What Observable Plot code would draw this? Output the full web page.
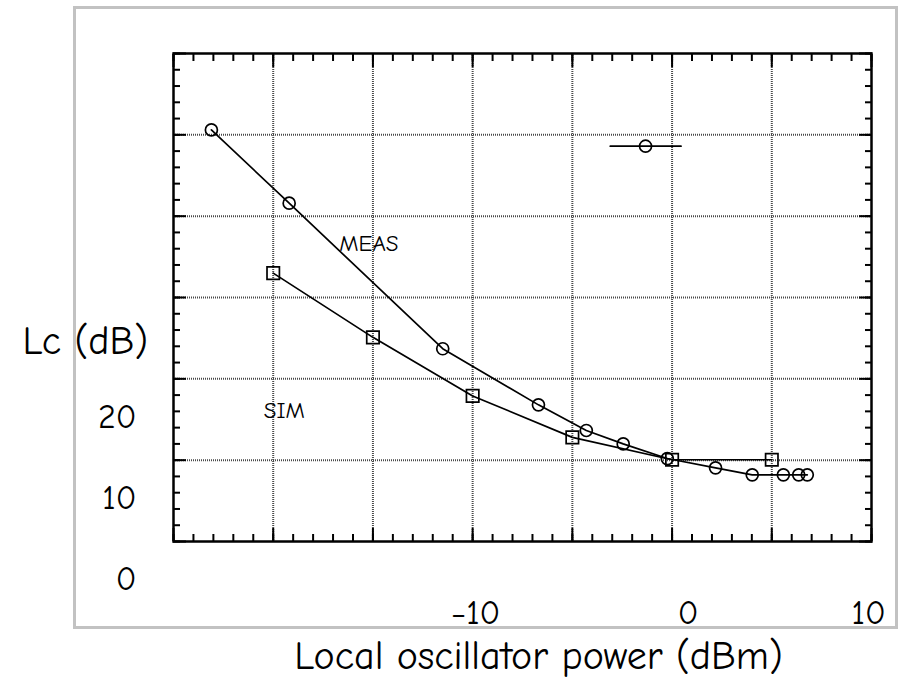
<!DOCTYPE html>
<html><head><meta charset="utf-8">
<script src="https://cdn.jsdelivr.net/npm/d3@7"></script>
<script src="https://cdn.jsdelivr.net/npm/@observablehq/plot@0.6"></script>
<style>
html,body{margin:0;padding:0;background:#fff;}
#wrap{position:relative;width:899px;height:677px;overflow:hidden;}
#box{position:absolute;left:73px;top:6px;width:825px;height:623px;border:3px solid #c2c2c2;box-sizing:border-box;}
#chart{position:absolute;left:0;top:0;}
</style></head><body>
<div id="wrap"><div id="box"></div><div id="chart"></div></div>
<script>
// Measured (MEAS, circles)
const measX = [-23.1, -19.2, -11.5, -6.7, -4.3, -2.45, -0.24, 2.18, 4.02, 5.58, 6.35, 6.78];
const measY = [50.6, 41.6, 23.7, 16.8, 13.65, 12.0, 10.2, 9.06, 8.2, 8.2, 8.2, 8.2];
// Simulated (SIM, squares)
const simX = [-20, -15, -10, -5, 0, 5];
const simY = [33.0, 25.1, 17.9, 12.8, 10.05, 10.05];
// Legend key (circle on a short line)
const keyLineX = [-3.1, 0.45];
const keyY = 48.6;
const keyDotX = -1.33;
// Annotations
const seriesNames = ["MEAS", "SIM"];
const seriesLabelX = [-15.2, -19.45];
const seriesLabelY = [36.6, 16.1];
// Axes
const xDomain = [-25, 10];
const yDomain = [0, 60];
const xGrid = [-20, -15, -10, -5, 0, 5];
const yGrid = [10, 20, 30, 40, 50];
const xMajor = [-25, -20, -15, -10, -5, 0, 5, 10];
const yMajor = [0, 10, 20, 30, 40, 50, 60];
const xMinor = d3.range(-25, 10.01, 1);
const yMinor = d3.range(0, 60.01, 2);
const yTickLabels = [0, 10, 20];
const xTickLabels = [-10, 0, 10];
const xTickShift = [3, 16, -3];
const yTitle = "Lc (dB)";
const xTitle = "Local oscillator power (dBm)";

const FONT = "'Comic Sans MS','Comic Neue','DejaVu Sans',sans-serif";
const meas = measX.map((x, i) => ({x, y: measY[i]}));
const sim = simX.map((x, i) => ({x, y: simY[i]}));
const keyLine = keyLineX.map(x => ({x, y: keyY}));
const keyDot = [{x: keyDotX, y: keyY}];
const notes = seriesNames.map((t, i) => ({t, x: seriesLabelX[i], y: seriesLabelY[i]}));

const gridStyle = {stroke: "#4a4a4a", strokeOpacity: 1, strokeWidth: 2, strokeDasharray: "1 1"};
const tk = {fill: "none", stroke: "black", strokeWidth: 2, label: null};

const chart = Plot.plot({
  width: 899, height: 677,
  marginLeft: 173, marginRight: 28, marginTop: 53, marginBottom: 136,
  style: {fontFamily: FONT, color: "black", background: "transparent", overflow: "visible"},
  x: {domain: xDomain},
  y: {domain: yDomain},
  marks: [
    Plot.gridX(xGrid, gridStyle),
    Plot.gridY(yGrid, gridStyle),
    Plot.axisX(xMinor, {...tk, anchor: "bottom", tickSize: 7, dy: -7}),
    Plot.axisX(xMinor, {...tk, anchor: "top", tickSize: 7, dy: 7}),
    Plot.axisX(xMajor, {...tk, anchor: "bottom", tickSize: 13, dy: -13}),
    Plot.axisX(xMajor, {...tk, anchor: "top", tickSize: 13, dy: 13}),
    Plot.axisY(yMinor, {...tk, anchor: "left", tickSize: 7, dx: 7}),
    Plot.axisY(yMinor, {...tk, anchor: "right", tickSize: 7, dx: -7}),
    Plot.axisY(yMajor, {...tk, anchor: "left", tickSize: 13, dx: 13}),
    Plot.axisY(yMajor, {...tk, anchor: "right", tickSize: 13, dx: -13}),
    Plot.frame({stroke: "black", strokeWidth: 2.5}),
    Plot.line(sim, {x: "x", y: "y", stroke: "black", strokeWidth: 1.7}),
    Plot.line(meas, {x: "x", y: "y", stroke: "black", strokeWidth: 1.7}),
    Plot.line(keyLine, {x: "x", y: "y", stroke: "black", strokeWidth: 1.7}),
    Plot.dot(sim, {x: "x", y: "y", symbol: "square", r: 7, stroke: "black", strokeWidth: 1.7, fill: "none"}),
    Plot.dot(meas, {x: "x", y: "y", r: 6, stroke: "black", strokeWidth: 1.7, fill: "none"}),
    Plot.dot(keyDot, {x: "x", y: "y", r: 6, stroke: "black", strokeWidth: 1.7, fill: "none"}),
    Plot.text(notes, {x: "x", y: "y", text: "t", fontSize: 23, fill: "black"}),
    Plot.axisY(yTickLabels, {anchor: "left", tickSize: 0, tickPadding: 37, dy: 38, fontSize: 34, label: null}),
    ...xTickLabels.map((v, i) => Plot.axisX([v], {anchor: "bottom", tickSize: 0, tickPadding: 58, dx: xTickShift[i], fontSize: 34, label: null})),
    Plot.text([yTitle], {frameAnchor: "left", dx: -151, dy: 44, textAnchor: "start", fontSize: 40, fill: "black"}),
    Plot.text([xTitle], {frameAnchor: "bottom", dx: 16, dy: 127, fontSize: 40, fill: "black"})
  ]
});
document.getElementById("chart").appendChild(chart);
</script>
</body></html>
